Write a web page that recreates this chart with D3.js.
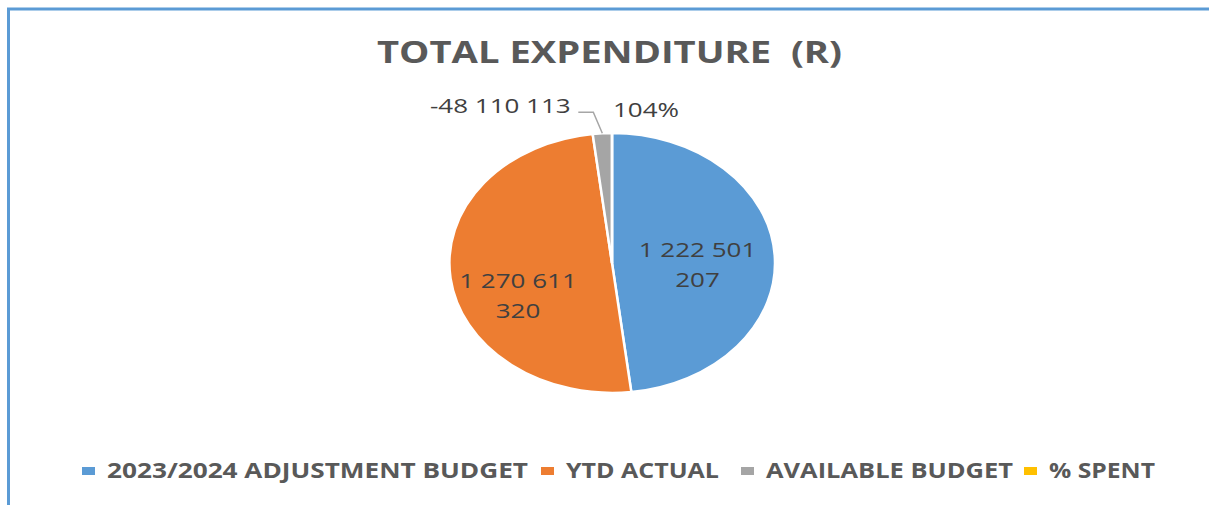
<!DOCTYPE html>
<html>
<head>
<meta charset="utf-8">
<script src="https://cdn.jsdelivr.net/npm/d3@7"></script>
<style>
  html, body { margin: 0; padding: 0; background: #fff; }
  svg { display: block; font-family: "Open Sans", "Liberation Sans", sans-serif; }
</style>
</head>
<body>
<div id="chart"></div>
<script>
// Dados do gráfico
const categories = ["2023/2024 ADJUSTMENT BUDGET", "YTD ACTUAL", "AVAILABLE BUDGET", "% SPENT"];
const values = [1222501207, 1270611320, -48110113, 1.04];
const colors = ["#5b9bd5", "#ed7d31", "#a5a5a5", "#ffc000"];
const title = "TOTAL EXPENDITURE  (R)";

const width = 1209, height = 505;
const cx = 612, cy = 263;
const rx = 163, ry = 130;

const svg = d3.select("#chart")
    .append("svg")
    .attr("width", width)
    .attr("height", height);

// Moldura (só topo e esquerda visíveis)
svg.append("path")
    .attr("d", `M8.5,${height} L8.5,9 L${width},9`)
    .attr("fill", "none")
    .attr("stroke", "#5b9bd5")
    .attr("stroke-width", 3);

// Título
svg.append("text")
    .attr("x", 377)
    .attr("y", 63)
    .attr("textLength", 465)
    .attr("lengthAdjust", "spacingAndGlyphs")
    .style("white-space", "pre")
    .style("font-size", "30px")
    .style("font-weight", "bold")
    .style("fill", "#595959")
    .text(title);

// Pizza (elíptica: escala horizontal)
const pie = d3.pie().sort(null).value(d => Math.abs(d));
const arcs = pie(values);
const arc = d3.arc().innerRadius(0).outerRadius(ry);

const g = svg.append("g")
    .attr("transform", `translate(${cx},${cy}) scale(${rx / ry},1)`);

g.selectAll("path")
    .data(arcs)
    .enter()
    .append("path")
    .attr("d", arc)
    .attr("fill", (d, i) => colors[i])
    .attr("stroke", "#fff")
    .attr("stroke-width", 2.5)
    .attr("vector-effect", "non-scaling-stroke");

// Rótulos de dados
const fmtNum = v => d3.format(",")(v).replace(/,/g, " ").replace("−", "-");
const fmtPct = d3.format(".0%");
const toScreen = p => [cx + p[0] * rx / ry, cy + p[1]];
const labelArc = d3.arc().innerRadius(0).outerRadius(ry * 1.1);
const stretch = 1.3;

function drawLabel(x, y, lines) {
    const t = svg.append("g")
        .attr("transform", `translate(${x},${y}) scale(${stretch},1)`)
        .append("text")
        .attr("text-anchor", "middle")
        .style("font-size", "20px")
        .style("fill", "#404040");
    lines.forEach((l, k) => {
        t.append("tspan").attr("x", 0).attr("y", k * 30).text(l);
    });
}

// dentro das fatias grandes (quebra depois do terceiro grupo)
const nudges = [[-4, -2], [-5, 17]];
[0, 1].forEach(i => {
    const parts = fmtNum(values[i]).split(" ");
    const lines = [parts.slice(0, 3).join(" "), parts.slice(3).join(" ")];
    const c = toScreen(labelArc.centroid(arcs[i]));
    drawLabel(c[0] + nudges[i][0], c[1] + nudges[i][1], lines);
});

// fatia cinza: rótulo fora com linha guia
const a2 = arcs[2];
const mid2 = (a2.startAngle + a2.endAngle) / 2;
const edge = toScreen([Math.sin(mid2) * ry, -Math.cos(mid2) * ry]);
const elbow = [edge[0] - 9, edge[1] - 21];
const end = [elbow[0] - 15, elbow[1]];
svg.append("polyline")
    .attr("points", [edge, elbow, end].map(p => p.join(",")).join(" "))
    .attr("fill", "none")
    .attr("stroke", "#a6a6a6")
    .attr("stroke-width", 1.5);
drawLabel(end[0] - 5 - 73, 113, [fmtNum(values[2])]);

// % gasto
drawLabel(646, 117, [fmtPct(values[3])]);

// Legenda
const legendX = [82, 541, 741, 1024];
const legendW = [421, 153, 247, 106];
const legend = svg.append("g");
categories.forEach((c, i) => {
    legend.append("rect")
        .attr("x", legendX[i])
        .attr("y", 467)
        .attr("width", 13)
        .attr("height", 8)
        .attr("fill", colors[i]);
    legend.append("text")
        .attr("x", legendX[i] + 25)
        .attr("y", 478)
        .attr("textLength", legendW[i])
        .attr("lengthAdjust", "spacingAndGlyphs")
        .style("font-size", "21px")
        .style("font-weight", "bold")
        .style("fill", "#595959")
        .text(c);
});
</script>
</body>
</html>
